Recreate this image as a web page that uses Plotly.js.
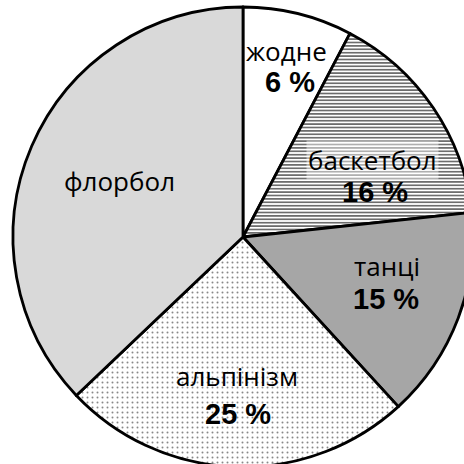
<!DOCTYPE html>
<html><head><meta charset="utf-8">
<script src="https://cdn.plot.ly/plotly-3.0.1.min.js"></script>
<style>html,body{margin:0;padding:0;overflow:hidden;background:#fff;width:464px;height:464px}#chart{position:absolute;left:0;top:0}</style>
</head><body><div id="chart"></div>
<script>
// categories in clockwise order from 12 o'clock
const categories = ["жодне", "баскетбол", "танці", "альпінізм", "флорбол"];
// slice shares as drawn in the picture
const shares = [7.7, 15.6, 14.9, 24.7, 37.1];
// percentage labels printed on the chart
const percentLabels = ["6 %", "16 %", "15 %", "25 %", ""];
const fills = ["#ffffff", "#ffffff", "#a6a6a6", "#ffffff", "#d9d9d9"];
const patterns = ["", "-", "", ".", ""];

// label anchor points (paper coords) for category name and percent
const namePos = [[0.594, 0.905], [0.781, 0.668], [0.812, 0.437], [0.487, 0.198], [0.231, 0.621]];
const pctPos  = [[0.603, 0.837], [0.787, 0.597], [0.810, 0.366], [0.489, 0.115], null];

const trace = {
  type: "pie",
  labels: categories,
  values: shares,
  sort: false,
  direction: "clockwise",
  rotation: 0,
  textinfo: "none",
  hoverinfo: "label+percent",
  marker: {
    colors: fills,
    line: {color: "#000", width: 2.8},
    pattern: {
      shape: patterns,
      fgcolor: ["#000", "#222", "#000", "#888", "#000"],
      bgcolor: fills,
      size: [8, 3.4, 8, 5, 8],
      solidity: [0.3, 0.33, 0.3, 0.12, 0.3]
    }
  },
  domain: {x: [0, 1], y: [0, 1]},
  showlegend: false
};

const annotations = [];
categories.forEach((c, i) => {
  annotations.push({
    xref: "paper", yref: "paper", x: namePos[i][0], y: namePos[i][1],
    text: c, showarrow: false, xanchor: "center", yanchor: "middle",
    font: {family: "Open Sans, Noto Sans, sans-serif", size: 26, color: "#000"},
    bgcolor: i === 1 ? "rgba(255,255,255,0.45)" : "rgba(0,0,0,0)"
  });
  if (pctPos[i] && percentLabels[i]) {
    annotations.push({
      xref: "paper", yref: "paper", x: pctPos[i][0], y: pctPos[i][1],
      text: "<b>" + percentLabels[i] + "</b>", showarrow: false, xanchor: "center", yanchor: "middle",
      font: {family: "Liberation Sans, Arial, sans-serif", size: 29, color: "#000"}
    });
  }
});

const layout = {
  width: 473, height: 467,
  margin: {l: 13, r: 0, t: 7, b: 0, pad: 0},
  paper_bgcolor: "#fff",
  plot_bgcolor: "#fff",
  showlegend: false,
  annotations: annotations
};

Plotly.newPlot("chart", [trace], layout, {staticPlot: true, displayModeBar: false});
</script></body></html>
